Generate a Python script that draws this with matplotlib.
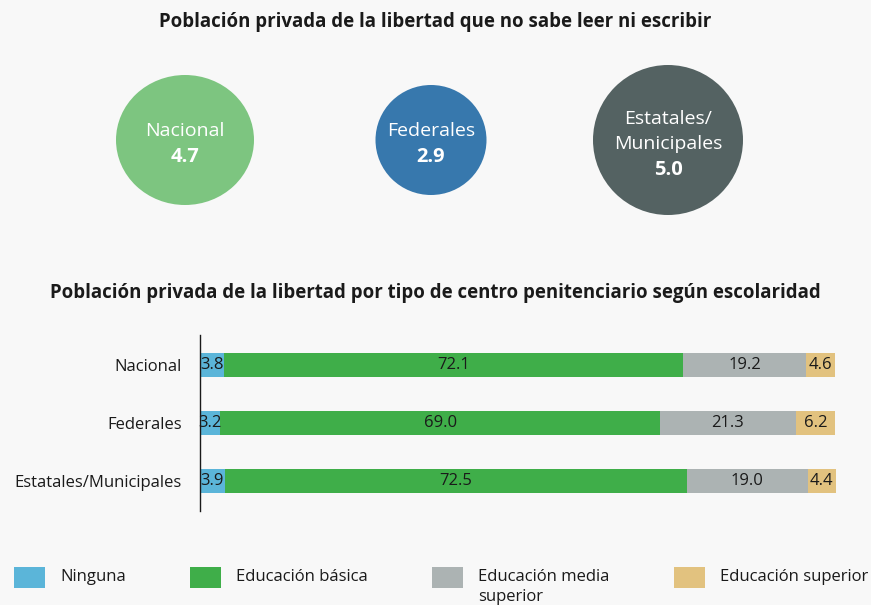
import matplotlib.pyplot as plt
from matplotlib.patches import Ellipse, Rectangle
import numpy as np

# data
circle_labels = ['Nacional', 'Federales', 'Estatales/\nMunicipales']
circle_values = [4.7, 2.9, 5.0]

centers = ['Nacional', 'Federales', 'Estatales/Municipales']
levels = ['Ninguna', 'Educación básica', 'Educación media\nsuperior', 'Educación superior']
ninguna = [3.8, 3.2, 3.9]
basica = [72.1, 69.0, 72.5]
media = [19.2, 21.3, 19.0]
superior = [4.6, 6.2, 4.4]

# styles / layout (pixels)
bg = '#f8f8f8'
circle_colors = ['#7dc580', '#3778ad', '#546262']
circle_xy = [(185, 140), (431, 140), (668, 140)]
circle_wh = [(138, 130), (111, 110), (150, 150)]
bar_colors = ['#5bb5d9', '#3fae49', '#acb3b3', '#e2c27f']
legend_x = [14, 190, 432, 674]

plt.rcParams['font.family'] = ['Open Sans', 'DejaVu Sans']

W, H = 871, 605
fig = plt.figure(figsize=(W / 100, H / 100), dpi=100, facecolor=bg)

# overlay in pixel coordinates
ov = fig.add_axes([0, 0, 1, 1])
ov.set_xlim(0, W)
ov.set_ylim(H, 0)
ov.axis('off')
ov.set_facecolor('none')

ov.text(435, 22, 'Población privada de la libertad que no sabe leer ni escribir',
        ha='center', va='center', fontsize=13.4, fontweight='bold', color='#1a1a1a')
ov.text(435, 293, 'Población privada de la libertad por tipo de centro penitenciario según escolaridad',
        ha='center', va='center', fontsize=13.4, fontweight='bold', color='#1a1a1a')

for lab, val, col, (cx, cy), (w, h) in zip(circle_labels, circle_values, circle_colors,
                                           circle_xy, circle_wh):
    ov.add_patch(Ellipse((cx, cy), w, h, color=col, lw=0))
    lines = lab.split('\n')
    n = len(lines) + 1
    y0 = cy - 12.5 * (n - 1) + 4
    for i, line in enumerate(lines):
        ov.text(cx, y0 + 25 * i, line, ha='center', va='center', color='white',
                fontsize=14)
    ov.text(cx, y0 + 25 * len(lines) + 1, f'{val:.1f}', ha='center',
            va='center', color='white', fontsize=14.5, fontweight='bold')

# legend
for x, lab, col in zip(legend_x, levels, bar_colors):
    ov.add_patch(Rectangle((x, 567), 31, 21, color=col, lw=0))
    ov.text(x + 46, 569, lab, ha='left', va='top', fontsize=12, color='#1a1a1a',
            linespacing=1.3)

# stacked bars
ax = fig.add_axes([200 / W, 1 - 511 / H, 637 / W, 176 / H])
ax.set_facecolor('none')
y = np.arange(len(centers))
left = np.zeros(len(centers))
for vals, col in zip([ninguna, basica, media, superior], bar_colors):
    vals = np.array(vals)
    ax.barh(y, vals, left=left, height=0.42, color=col, lw=0)
    for yi, l, v in zip(y, left, vals):
        ax.text(l + v / 2, yi, f'{v:.1f}', ha='center', va='center', fontsize=12,
                color='#1a1a1a')
    left += vals

ax.set_xlim(0, 100)
ax.set_ylim(2.52, -0.52)
ax.set_yticks(y)
ax.set_yticklabels(centers, fontsize=12, color='#1a1a1a')
ax.tick_params(axis='y', length=0, pad=13)
ax.set_xticks([])
for s in ['top', 'right', 'bottom']:
    ax.spines[s].set_visible(False)
ax.spines['left'].set_color('#1a1a1a')
ax.spines['left'].set_linewidth(1)

fig.savefig('out.png', dpi=100, facecolor=bg)
